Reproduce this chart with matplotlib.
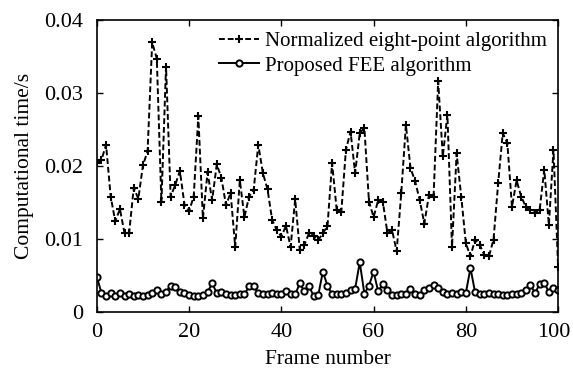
import numpy as np
import matplotlib
matplotlib.use("Agg")
import matplotlib.pyplot as plt
import matplotlib.transforms as mtransforms
from matplotlib.ticker import FuncFormatter

plt.rcParams["font.family"] = ["Liberation Serif", "DejaVu Serif"]

# ---------------- DATA ----------------
frames = list(range(101))

normalized_8pt = [
    0.0204, 0.0208, 0.0229, 0.0158, 0.0124, 0.0141, 0.0108, 0.0108, 0.0170, 0.0155,
    0.0201, 0.0220, 0.0369, 0.0347, 0.0150, 0.0336, 0.0158, 0.0174, 0.0193, 0.0147,
    0.0138, 0.0158, 0.0268, 0.0128, 0.0191, 0.0153, 0.0202, 0.0184, 0.0146, 0.0163,
    0.0089, 0.0180, 0.0130, 0.0158, 0.0167, 0.0229, 0.0190, 0.0168, 0.0126, 0.0112,
    0.0103, 0.0118, 0.0089, 0.0154, 0.0085, 0.0092, 0.0108, 0.0104, 0.0098, 0.0108,
    0.0117, 0.0204, 0.0140, 0.0137, 0.0222, 0.0247, 0.0190, 0.0245, 0.0252, 0.0151,
    0.0130, 0.0153, 0.0151, 0.0108, 0.0112, 0.0083, 0.0163, 0.0256, 0.0197, 0.0179,
    0.0153, 0.0121, 0.0160, 0.0158, 0.0316, 0.0213, 0.0270, 0.0089, 0.0217, 0.0158,
    0.0094, 0.0076, 0.0099, 0.0092, 0.0078, 0.0076, 0.0099, 0.0176, 0.0245, 0.0231,
    0.0144, 0.0180, 0.0158, 0.0144, 0.0140, 0.0135, 0.0140, 0.0195, 0.0119, 0.0222,
    0.0062,
]

proposed_fee = [
    0.0048, 0.0026, 0.0022, 0.0026, 0.0022, 0.0026, 0.0022, 0.0024, 0.0022, 0.0023,
    0.0022, 0.0023, 0.0026, 0.0030, 0.0024, 0.0027, 0.0036, 0.0034, 0.0027, 0.0026,
    0.0023, 0.0022, 0.0022, 0.0023, 0.0027, 0.0039, 0.0026, 0.0027, 0.0024, 0.0023,
    0.0023, 0.0024, 0.0024, 0.0035, 0.0035, 0.0026, 0.0025, 0.0024, 0.0026, 0.0024,
    0.0025, 0.0029, 0.0025, 0.0024, 0.0039, 0.0028, 0.0035, 0.0022, 0.0023, 0.0055,
    0.0036, 0.0024, 0.0024, 0.0025, 0.0026, 0.0030, 0.0032, 0.0068, 0.0025, 0.0036,
    0.0055, 0.0028, 0.0038, 0.0030, 0.0023, 0.0023, 0.0024, 0.0024, 0.0031, 0.0024,
    0.0023, 0.0030, 0.0033, 0.0037, 0.0033, 0.0027, 0.0024, 0.0026, 0.0024, 0.0027,
    0.0026, 0.0060, 0.0027, 0.0025, 0.0024, 0.0026, 0.0024, 0.0025, 0.0023, 0.0023,
    0.0024, 0.0025, 0.0026, 0.0030, 0.0037, 0.0026, 0.0038, 0.0040, 0.0027, 0.0033,
    0.0030,
]

x_ticks = [0, 20, 40, 60, 80, 100]
y_ticks = [0, 0.01, 0.02, 0.03, 0.04]

# ---------------- PLOT ----------------
fig = plt.figure(figsize=(5.73, 3.74), dpi=100)
ax = fig.add_axes([0.169, 0.166, 0.805, 0.781])

ax.plot(frames, normalized_8pt, color="black", linestyle="--", linewidth=1.4,
        dashes=(3, 1.5), marker="+", markersize=5.5, markeredgewidth=1.5,
        label="Normalized eight-point algorithm")
ax.plot(frames, proposed_fee, color="black", linestyle="-", linewidth=1.4,
        marker="o", markersize=4.5, markerfacecolor="white", markeredgewidth=1.4,
        label="Proposed FEE algorithm")

ax.set_xlim(0, 100)
ax.set_ylim(0, 0.04)
ax.set_xticks(x_ticks)
ax.set_yticks(y_ticks)
ax.yaxis.set_major_formatter(FuncFormatter(lambda v, p: "0" if v == 0 else f"{v:.2f}"))
ax.tick_params(direction="in", top=True, right=True, length=4, width=1, labelsize=16)
ax.tick_params(axis="x", pad=8)
ax.tick_params(axis="y", pad=10)
for s in ax.spines.values():
    s.set_linewidth(1.2)

# nudge the "100" label so it stays inside the picture
last = ax.get_xticklabels()[-1]
last.set_transform(last.get_transform() +
                   mtransforms.ScaledTranslation(-4 / 100, 0, fig.dpi_scale_trans))

ax.set_xlabel("Frame number", fontsize=15.5, labelpad=6)
ax.set_ylabel("Computational time/s", fontsize=15.5, labelpad=7)

ax.legend(loc="upper right", frameon=False, fontsize=15, handlelength=1.9,
          handletextpad=0.3, labelspacing=0.25, borderaxespad=0.15,
          bbox_to_anchor=(1.0, 1.0))

fig.savefig("out.png", dpi=100)
